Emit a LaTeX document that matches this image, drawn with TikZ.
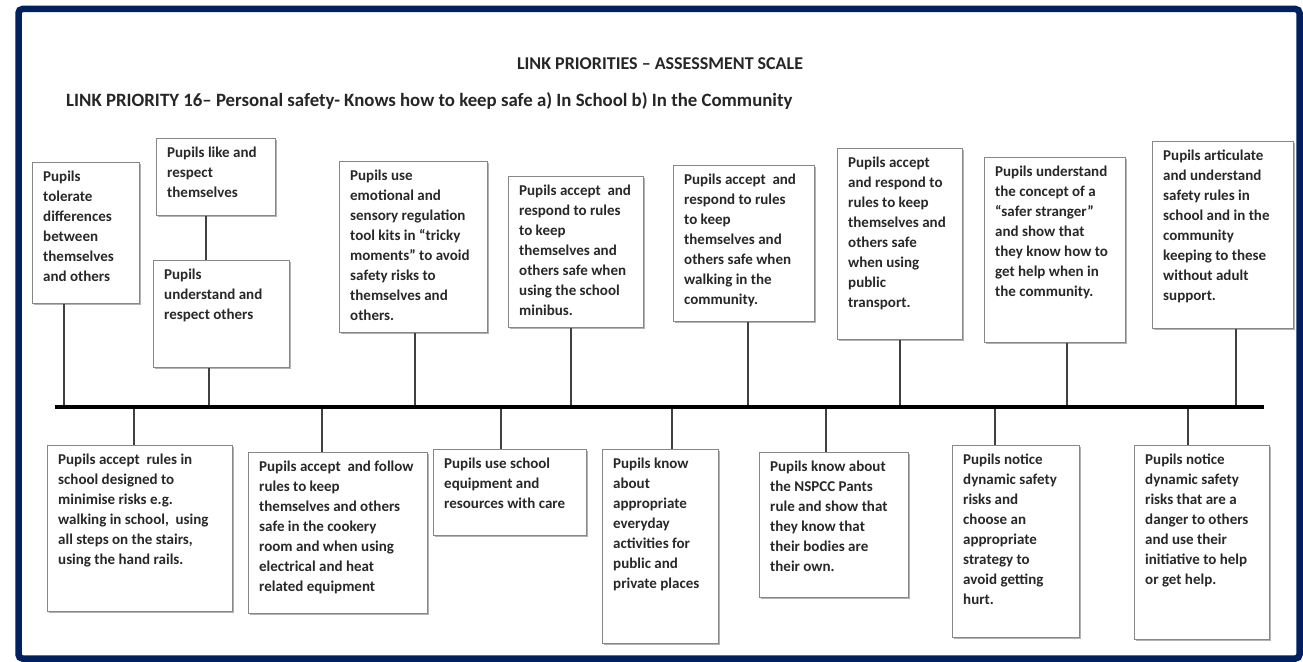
\documentclass[tikz,border=0pt]{standalone}
\usepackage{fontspec}
\setmainfont{Carlito}
\usetikzlibrary{shadows}
\definecolor{navy}{RGB}{0,32,96}
\definecolor{boxline}{RGB}{135,135,135}
\definecolor{txt}{RGB}{40,40,40}
\newcommand\mkcard[6]{%
  \pgfmathsetmacro\cardw{#4-#2}\pgfmathsetmacro\cardh{#5-#3}%
  \node[card, minimum width=\cardw pt, minimum height=\cardh pt] (#1) at (#2,#3) {};%
  \node[cardtext] (#1t) at ([shift={(11,9)}]#1.north west) {#6};}
\begin{document}
\begin{tikzpicture}[x=1pt,y=-1pt,
  frame/.style={draw=navy, line width=6.5pt, rounded corners=4pt},
  card/.style={draw=boxline, line width=1.3pt, fill=white, inner sep=0pt, anchor=north west,
    drop shadow={shadow xshift=1.3pt, shadow yshift=-1.3pt, opacity=0.3, fill=black}},
  cardtext/.style={anchor=north west, inner sep=0pt, align=left, text=txt,
    font=\fontsize{15}{20}\selectfont\bfseries},
  tick/.style={draw=black!75, line width=1.1pt},
  axis/.style={draw=black, line width=4pt},
  heading/.style={inner sep=0pt, text=black!85, font=\fontsize{18}{22}\selectfont\bfseries},
  subheading/.style={inner sep=0pt, text=black!85, font=\fontsize{18.8}{22}\selectfont\bfseries},
  ]
\useasboundingbox (0,0) rectangle (1303,661);
\fill[white] (0,0) rectangle (1303,661);
\draw[frame] (18.5,9) rectangle (1299.5,658.5);

\node[heading] (title) at (660,64) {LINK PRIORITIES – ASSESSMENT SCALE};
\node[subheading, anchor=west] (sub) at (66,101) {LINK PRIORITY 16– Personal safety- Knows how to keep safe a) In School b) In the Community};

% top cards
\mkcard{t1}{32}{162}{139}{303}{Pupils\\tolerate\\differences\\between\\themselves\\and others}
\mkcard{t2}{156}{138}{275}{215}{Pupils like and\\respect\\themselves}
\mkcard{t3}{153}{260}{289}{367}{Pupils\\understand and\\respect others}
\mkcard{t4}{339}{161}{487}{332}{Pupils use\\emotional and\\sensory regulation\\tool kits in “tricky\\moments” to avoid\\safety risks to\\themselves and\\others.}
\mkcard{t5}{508}{176}{643}{327}{Pupils accept\ \ and\\respond to rules\\to keep\\themselves and\\others safe when\\using the school\\minibus.}
\mkcard{t6}{673}{165}{814}{321}{Pupils accept\ \ and\\respond to rules\\to keep\\themselves and\\others safe when\\walking in the\\community.}
\mkcard{t7}{837}{148}{962}{339}{Pupils accept\\and respond to\\rules to keep\\themselves and\\others safe\\when using\\public\\transport.}
\mkcard{t8}{984}{157}{1125}{342}{Pupils understand\\the concept of a\\“safer stranger”\\and show that\\they know how to\\get help when in\\the community.}
\mkcard{t9}{1152}{141}{1293}{328}{Pupils articulate\\and understand\\safety rules in\\school and in the\\community\\keeping to these\\without adult\\support.}

% bottom cards
\mkcard{b1}{47}{445}{232}{611}{Pupils accept\ \ rules in\\school designed to\\minimise risks e.g.\\walking in school,\ \ using\\all steps on the stairs,\\using the hand rails.}
\mkcard{b2}{248}{452}{427}{613}{Pupils accept\ \ and follow\\rules to keep\\themselves and others\\safe in the cookery\\room and when using\\electrical and heat\\related equipment}
\mkcard{b3}{433}{449}{586}{535}{Pupils use school\\equipment and\\resources with care}
\mkcard{b4}{602}{449}{718}{643}{Pupils know\\about\\appropriate\\everyday\\activities for\\public and\\private places}
\mkcard{b5}{759}{452}{908}{597}{Pupils know about\\the NSPCC Pants\\rule and show that\\they know that\\their bodies are\\their own.}
\mkcard{b6}{952}{445}{1079}{637}{Pupils notice\\dynamic safety\\risks and\\choose an\\appropriate\\strategy to\\avoid getting\\hurt.}
\mkcard{b7}{1134}{445}{1269}{639}{Pupils notice\\dynamic safety\\risks that are a\\danger to others\\and use their\\initiative to help\\or get help.}

% timeline
\coordinate (axL) at (55,406.5);
\coordinate (axR) at (1264,406.5);

\coordinate (p1) at (64,406.5);
\coordinate (p3) at (209,406.5);
\coordinate (p4) at (415,406.5);
\coordinate (p5) at (571,406.5);
\coordinate (p6) at (748,406.5);
\coordinate (p7) at (900,406.5);
\coordinate (p8) at (1067,406.5);
\coordinate (p9) at (1236,406.5);
\coordinate (q1) at (134,406.5);
\coordinate (q2) at (322,406.5);
\coordinate (q3) at (501,406.5);
\coordinate (q4) at (672,406.5);
\coordinate (q5) at (826,406.5);
\coordinate (q6) at (995,406.5);
\coordinate (q7) at (1188,406.5);
\coordinate (c23) at (206,0);

\draw[tick] (t2.south -| c23) -- (t3.north -| c23);
\foreach \n in {1,3,4,5,6,7,8,9}{\draw[tick] (p\n) -- (p\n |- t\n.south);}
\foreach \n in {1,...,7}{\draw[tick] (q\n) -- (q\n |- b\n.north);}
\draw[axis] (axL) -- (axR);
\end{tikzpicture}
\end{document}
